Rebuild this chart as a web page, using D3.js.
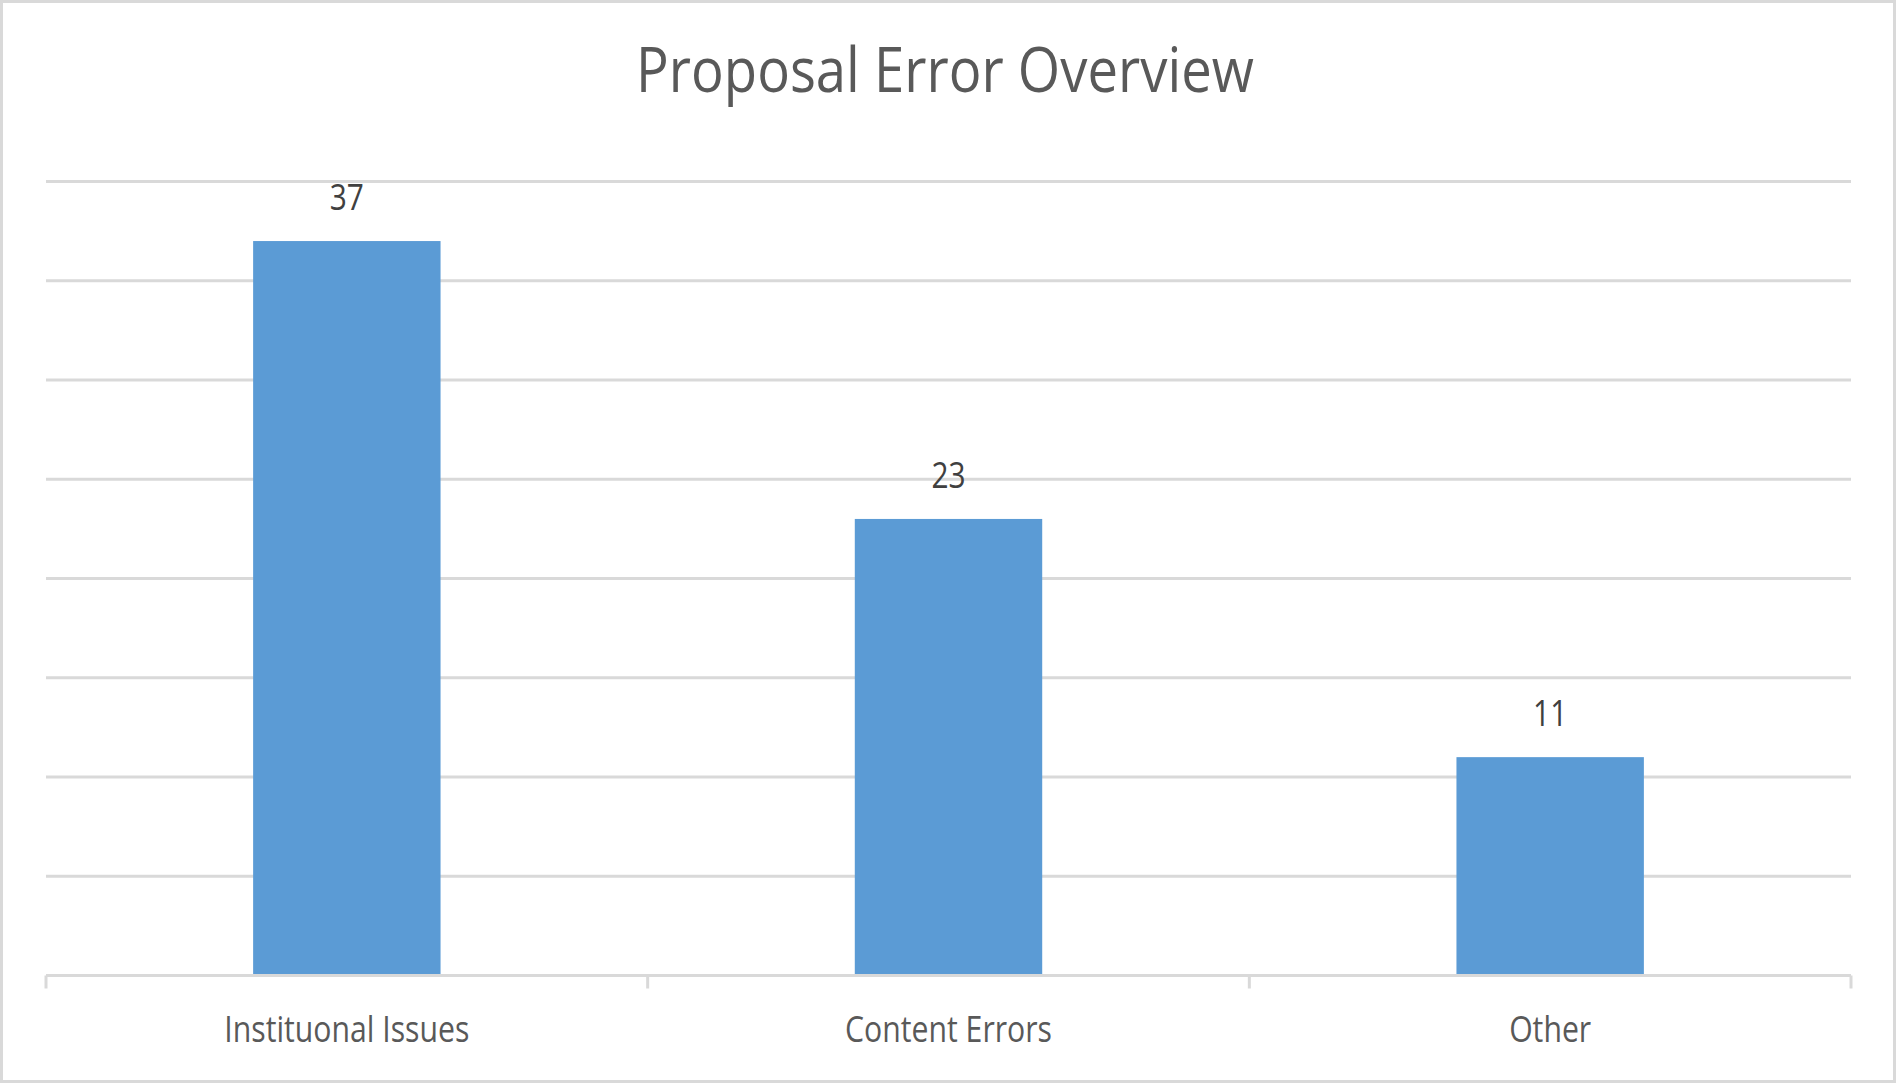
<!DOCTYPE html>
<html>
<head>
<meta charset="utf-8">
<script src="https://cdn.jsdelivr.net/npm/d3@7"></script>
<style>
  html, body { margin: 0; padding: 0; background: #ffffff; }
  svg { display: block; }
  text { font-family: "Open Sans", "Noto Sans", sans-serif; }
</style>
</head>
<body>
<svg id="chart" width="1896" height="1083"></svg>
<script>
// Chart content
const title = "Proposal Error Overview";
const categories = ["Instituonal Issues", "Content Errors", "Other"];
const values = [37, 23, 11];
const yTicks = [0, 5, 10, 15, 20, 25, 30, 35, 40];

const W = 1896, H = 1083;
const plot = { left: 46, right: 1851, top: 181.5, bottom: 975.5 };

const svg = d3.select("#chart");

// outer frame
svg.append("rect")
  .attr("x", 1.5).attr("y", 1.5)
  .attr("width", W - 3).attr("height", H - 3)
  .attr("fill", "#ffffff")
  .attr("stroke", "#d9d9d9")
  .attr("stroke-width", 3);

const gap = 0.6885;
const x = d3.scaleBand()
  .domain(categories)
  .range([plot.left, plot.right])
  .paddingInner(gap)
  .paddingOuter(gap / 2);

const y = d3.scaleLinear()
  .domain([0, 40])
  .range([plot.bottom, plot.top]);

// horizontal gridlines
svg.append("g")
  .selectAll("line")
  .data(yTicks.filter(t => t > 0))
  .join("line")
  .attr("x1", plot.left).attr("x2", plot.right)
  .attr("y1", d => y(d)).attr("y2", d => y(d))
  .attr("stroke", "#d9d9d9")
  .attr("stroke-width", 3);

// bars
svg.append("g")
  .selectAll("rect")
  .data(values)
  .join("rect")
  .attr("x", (d, i) => x(categories[i]))
  .attr("y", d => y(d))
  .attr("width", x.bandwidth())
  .attr("height", d => y(0) - y(d))
  .attr("fill", "#5b9bd5");

// category axis: baseline with boundary ticks
const boundaries = categories.map(c => x(c) - x.step() * gap / 2).concat([plot.right]);
const axis = svg.append("g");
axis.append("line")
  .attr("x1", plot.left).attr("x2", plot.right)
  .attr("y1", y(0)).attr("y2", y(0))
  .attr("stroke", "#d9d9d9").attr("stroke-width", 3);
axis.selectAll("line.tick")
  .data(boundaries)
  .join("line")
  .attr("class", "tick")
  .attr("x1", d => d).attr("x2", d => d)
  .attr("y1", y(0)).attr("y2", y(0) + 13)
  .attr("stroke", "#d9d9d9").attr("stroke-width", 3);

// text helper: condensed glyphs via horizontal scaling
function label(parent, txt, cx, baseline, size, sx, color) {
  return parent.append("text")
    .attr("transform", `translate(${cx},${baseline}) scale(${sx},1)`)
    .attr("text-anchor", "middle")
    .attr("font-size", size)
    .attr("fill", color)
    .text(txt);
}

// category labels
const catG = svg.append("g");
categories.forEach(c => {
  label(catG, c, x(c) + x.bandwidth() / 2, 1042, 36.4, 0.83, "#595959");
});

// value labels
const valG = svg.append("g");
values.forEach((v, i) => {
  label(valG, String(v), x(categories[i]) + x.bandwidth() / 2, y(v) - 31, 36.4, 0.82, "#404040");
});

// title
label(svg, title, 945, 92, 61.6, 0.884, "#595959");
</script>
</body>
</html>
